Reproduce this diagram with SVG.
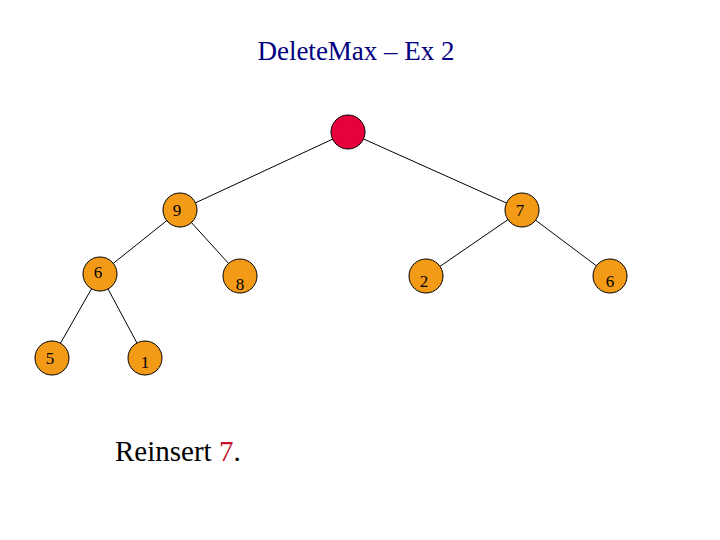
<svg xmlns="http://www.w3.org/2000/svg" width="720" height="540" viewBox="0 0 720 540">
<style>
.n{fill:#F39A17;stroke:#000;stroke-width:1}
.t{font-family:"Liberation Serif",serif;font-size:17px;text-anchor:middle;fill:#000}
#edges line{stroke:#000;stroke-width:1}
</style>
<rect width="720" height="540" fill="#fff"/>
<text x="356" y="60" font-family="Liberation Serif,serif" font-size="27" fill="#000080" text-anchor="middle">DeleteMax – Ex 2</text>
<g id="edges">
<line x1="348" y1="132" x2="180" y2="210"/>
<line x1="348" y1="132" x2="522" y2="210"/>
<line x1="180" y1="210" x2="100" y2="274"/>
<line x1="180" y1="210" x2="240" y2="276"/>
<line x1="522" y1="210" x2="426" y2="276"/>
<line x1="522" y1="210" x2="610" y2="276"/>
<line x1="100" y1="274" x2="52" y2="358"/>
<line x1="100" y1="274" x2="145" y2="358"/>
</g>
<g id="root"><circle cx="348" cy="132" r="17" fill="#E8003C" stroke="#000"/></g>
<g id="n9"><circle class="n" cx="180" cy="210" r="17"/><text class="t" x="177" y="216">9</text></g>
<g id="n7"><circle class="n" cx="522" cy="210" r="17"/><text class="t" x="520" y="216">7</text></g>
<g id="n6a"><circle class="n" cx="100" cy="274" r="17"/><text class="t" x="98" y="278">6</text></g>
<g id="n8"><circle class="n" cx="240" cy="276" r="17"/><text class="t" x="240" y="290">8</text></g>
<g id="n2"><circle class="n" cx="426" cy="276" r="17"/><text class="t" x="424" y="287">2</text></g>
<g id="n6b"><circle class="n" cx="610" cy="276" r="17"/><text class="t" x="610" y="287">6</text></g>
<g id="n5"><circle class="n" cx="52" cy="358" r="17"/><text class="t" x="50" y="364">5</text></g>
<g id="n1"><circle class="n" cx="145" cy="358" r="17"/><text class="t" x="145" y="368">1</text></g>
<text x="115" y="461" font-family="Liberation Serif,serif" font-size="29" fill="#000">Reinsert <tspan fill="#C8102E">7</tspan>.</text>
</svg>
